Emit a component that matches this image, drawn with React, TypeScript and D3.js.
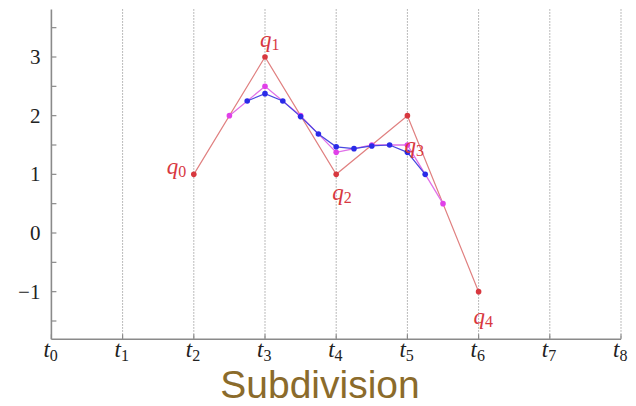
import React from "react";
import * as d3 from "d3";

// Knot positions t0..t8
const knots = [0, 1, 2, 3, 4, 5, 6, 7, 8];
const yTicks = [-1, 0, 1, 2, 3];
const yMinorTicks = [-1.5, -0.5, 0.5, 1.5, 2.5, 3.5];

// Control polygon q0..q4
const controlT = [2, 3, 4, 5, 6];
const controlY = [1, 3, 1, 2, -1];
const controlLabels = ["q0", "q1", "q2", "q3", "q4"];

// First subdivision step
const level1T = [2.5, 3, 3.5, 4, 4.5, 5, 5.5];
const level1Y = [2, 2.5, 2, 1.375, 1.5, 1.5, 0.5];

// Second subdivision step
const level2T = [2.75, 3, 3.25, 3.5, 3.75, 4, 4.25, 4.5, 4.75, 5, 5.25];
const level2Y = [2.25, 2.375, 2.25, 1.984, 1.6875, 1.469, 1.4375, 1.484, 1.5, 1.375, 1.0];

const W = 636;
const H = 406;

const serif = "'Liberation Serif', 'DejaVu Serif', serif";

export default function App() {
  const x = d3.scaleLinear().domain([0, 8]).range([51.4, 621]);
  const y = d3.scaleLinear().domain([0, 3]).range([233, 57]);
  const yBottom = y(-1.81);
  const yTop = y(3.81);

  const line = d3
    .line<[number, number]>()
    .x((d) => x(d[0]))
    .y((d) => y(d[1]));

  const ctrl = controlT.map((t, i) => [t, controlY[i]] as [number, number]);
  const l1 = level1T.map((t, i) => [t, level1Y[i]] as [number, number]);
  const l2 = level2T.map((t, i) => [t, level2Y[i]] as [number, number]);

  // label offsets around each control point
  const labelPos: [number, number][] = [
    [-27, 0],
    [-5, -10],
    [-4, 26],
    [-3, 37],
    [-5, 32],
  ];

  const red = "#d8383f";
  const grey = "#8a8a8a";

  return (
    <svg
      width={W}
      height={H}
      style={{ position: "absolute", left: 0, top: 0, background: "#fff" }}
    >
      {/* dotted knot lines */}
      {knots.slice(1).map((k) => (
        <line
          key={"g" + k}
          x1={x(k)}
          x2={x(k)}
          y1={yTop}
          y2={yBottom}
          stroke="#777"
          strokeWidth={1}
          strokeDasharray="1,2"
        />
      ))}

      {/* axes */}
      <line x1={x(0)} x2={x(0)} y1={yTop} y2={yBottom} stroke={grey} strokeWidth={1.6} />
      <line x1={x(0)} x2={x(8)} y1={yBottom} y2={yBottom} stroke={grey} strokeWidth={1.6} />

      {yTicks.map((v) => (
        <g key={"yt" + v}>
          <line x1={x(0)} x2={x(0) + 5} y1={y(v)} y2={y(v)} stroke={grey} strokeWidth={1.2} />
          <text
            x={x(0) - 11}
            y={y(v) + 7}
            textAnchor="end"
            fontFamily={serif}
            fontSize={21}
            fill="#222"
          >
            {v < 0 ? "\u2212" + Math.abs(v) : String(v)}
          </text>
        </g>
      ))}
      {yMinorTicks.map((v) => (
        <line
          key={"ym" + v}
          x1={x(0)}
          x2={x(0) + 5}
          y1={y(v)}
          y2={y(v)}
          stroke={grey}
          strokeWidth={1.2}
        />
      ))}

      {knots.map((k) => (
        <g key={"xt" + k}>
          <line x1={x(k)} x2={x(k)} y1={yBottom} y2={yBottom - 5} stroke={grey} strokeWidth={1.2} />
          <text
            x={x(k) - 8}
            y={yBottom + 18}
            fontFamily={serif}
            fontStyle="italic"
            fontSize={23}
            fill="#222"
          >
            t
            <tspan fontStyle="normal" fontSize={16} dy={4}>
              {k}
            </tspan>
          </text>
        </g>
      ))}

      {/* control polygon */}
      <path d={line(ctrl) ?? ""} fill="none" stroke="#e08080" strokeWidth={1.2} />
      {/* subdivision polygons */}
      <path d={line(l1) ?? ""} fill="none" stroke="#e070e8" strokeWidth={1.3} />
      <path d={line(l2) ?? ""} fill="none" stroke="#4848e0" strokeWidth={1.2} />

      {ctrl.map((d, i) => (
        <circle key={"c" + i} cx={x(d[0])} cy={y(d[1])} r={2.8} fill={red} />
      ))}
      {l1.map((d, i) => (
        <circle key={"m" + i} cx={x(d[0])} cy={y(d[1])} r={2.8} fill="#e040e8" />
      ))}
      {l2.map((d, i) => (
        <circle key={"b" + i} cx={x(d[0])} cy={y(d[1])} r={2.8} fill="#2a2ae8" />
      ))}

      {ctrl.map((d, i) => (
        <text
          key={"q" + i}
          x={x(d[0]) + labelPos[i][0]}
          y={y(d[1]) + labelPos[i][1]}
          fontFamily={serif}
          fontStyle="italic"
          fontSize={23}
          fill={red}
        >
          {controlLabels[i][0]}
          <tspan fontStyle="normal" fontSize={16} dy={3}>
            {controlLabels[i].slice(1)}
          </tspan>
        </text>
      ))}

      <text
        x={320}
        y={398}
        textAnchor="middle"
        fontFamily="'Liberation Sans', Arial, sans-serif"
        fontSize={39}
        fill="#8b6b2b"
      >
        Subdivision
      </text>
    </svg>
  );
}
